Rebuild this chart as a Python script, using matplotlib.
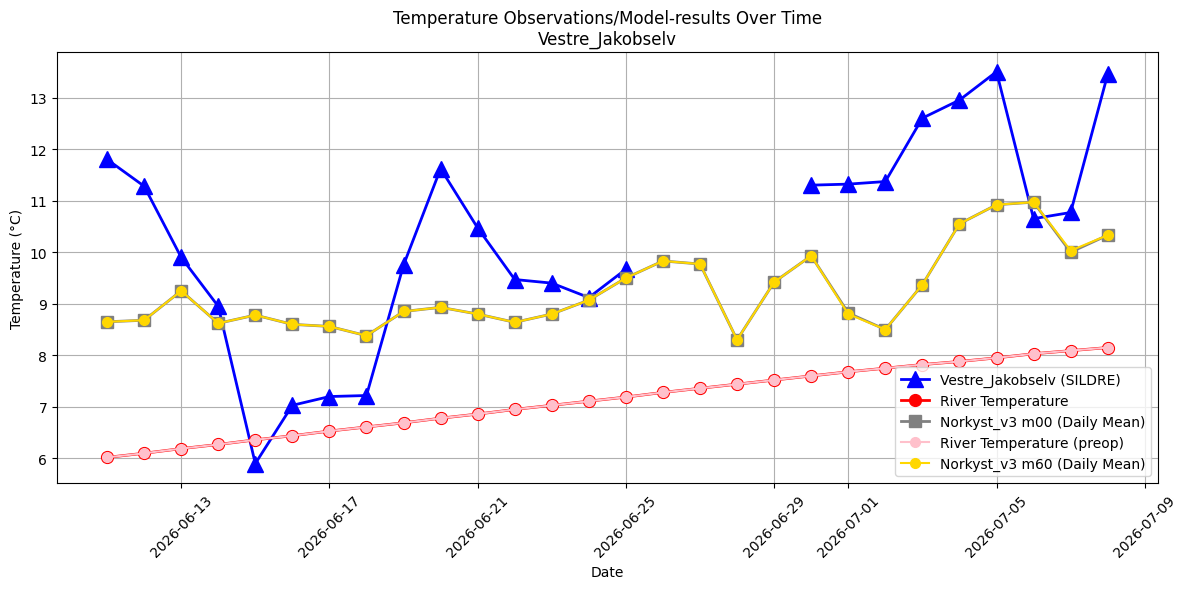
import matplotlib
matplotlib.use("Agg")
import matplotlib.pyplot as plt
import matplotlib.dates as mdates
import pandas as pd
import numpy as np

dates = pd.date_range("2026-06-11", "2026-07-08", freq="D")

obs_vals = [11.80, 11.28, 9.90, 8.95, 5.90, 7.03, 7.20, 7.22, 9.75, 11.62, 10.47, 9.47, 9.40, 9.12, 9.67,
            np.nan, np.nan, np.nan, np.nan,
            11.30, 11.32, 11.37, 12.60, 12.95, 13.50, 10.65, 10.77, 13.45]

river_vals = [6.02, 6.10, 6.19, 6.27, 6.36, 6.44, 6.53, 6.61, 6.69, 6.78, 6.86, 6.95, 7.03, 7.11,
              7.19, 7.28, 7.36, 7.44, 7.52, 7.60, 7.68, 7.75, 7.82, 7.88, 7.95, 8.03, 8.09, 8.15]

m00_vals = [8.65, 8.68, 9.25, 8.62, 8.78, 8.60, 8.56, 8.38, 8.85, 8.93, 8.80, 8.64, 8.80, 9.07,
            9.50, 9.83, 9.77, 8.30, 9.42, 9.93, 8.82, 8.50, 9.37, 10.55, 10.92, 10.97, 10.00, 10.33]

m60_vals = [8.65, 8.68, 9.25, 8.62, 8.78, 8.60, 8.56, 8.38, 8.85, 8.93, 8.80, 8.64, 8.80, 9.07,
            9.50, 9.83, 9.77, 8.30, 9.42, 9.93, 8.80, 8.50, 9.37, 10.55, 10.92, 10.97, 10.03, 10.33]

fig, ax = plt.subplots(figsize=(12, 6), dpi=100)

ax.plot(dates, obs_vals, color="blue", marker="^", markersize=12, linewidth=2,
        label="Vestre_Jakobselv (SILDRE)")
ax.plot(dates, river_vals, color="red", marker="o", markersize=8.5, linewidth=2,
        label="River Temperature")
ax.plot(dates, m00_vals, color="gray", marker="s", markersize=9, linewidth=2,
        label="Norkyst_v3 m00 (Daily Mean)")
ax.plot(dates, river_vals, color="pink", marker="o", markersize=7, linewidth=1.5,
        label="River Temperature (preop)")
ax.plot(dates, m60_vals, color="gold", marker="o", markersize=7, linewidth=1.5,
        label="Norkyst_v3 m60 (Daily Mean)")

ax.set_title("Temperature Observations/Model-results Over Time\nVestre_Jakobselv")
ax.set_xlabel("Date")
ax.set_ylabel("Temperature (°C)")
ax.grid(True, color="#b0b0b0")
ax.xaxis.set_major_locator(mdates.DayLocator(bymonthday=[1, 5, 9, 13, 17, 21, 25, 29]))
ax.xaxis.set_major_formatter(mdates.DateFormatter("%Y-%m-%d"))
plt.setp(ax.get_xticklabels(), rotation=45)
ax.legend(loc="lower right")
fig.tight_layout()
fig.savefig("out.png", dpi=100, bbox_inches="tight")
